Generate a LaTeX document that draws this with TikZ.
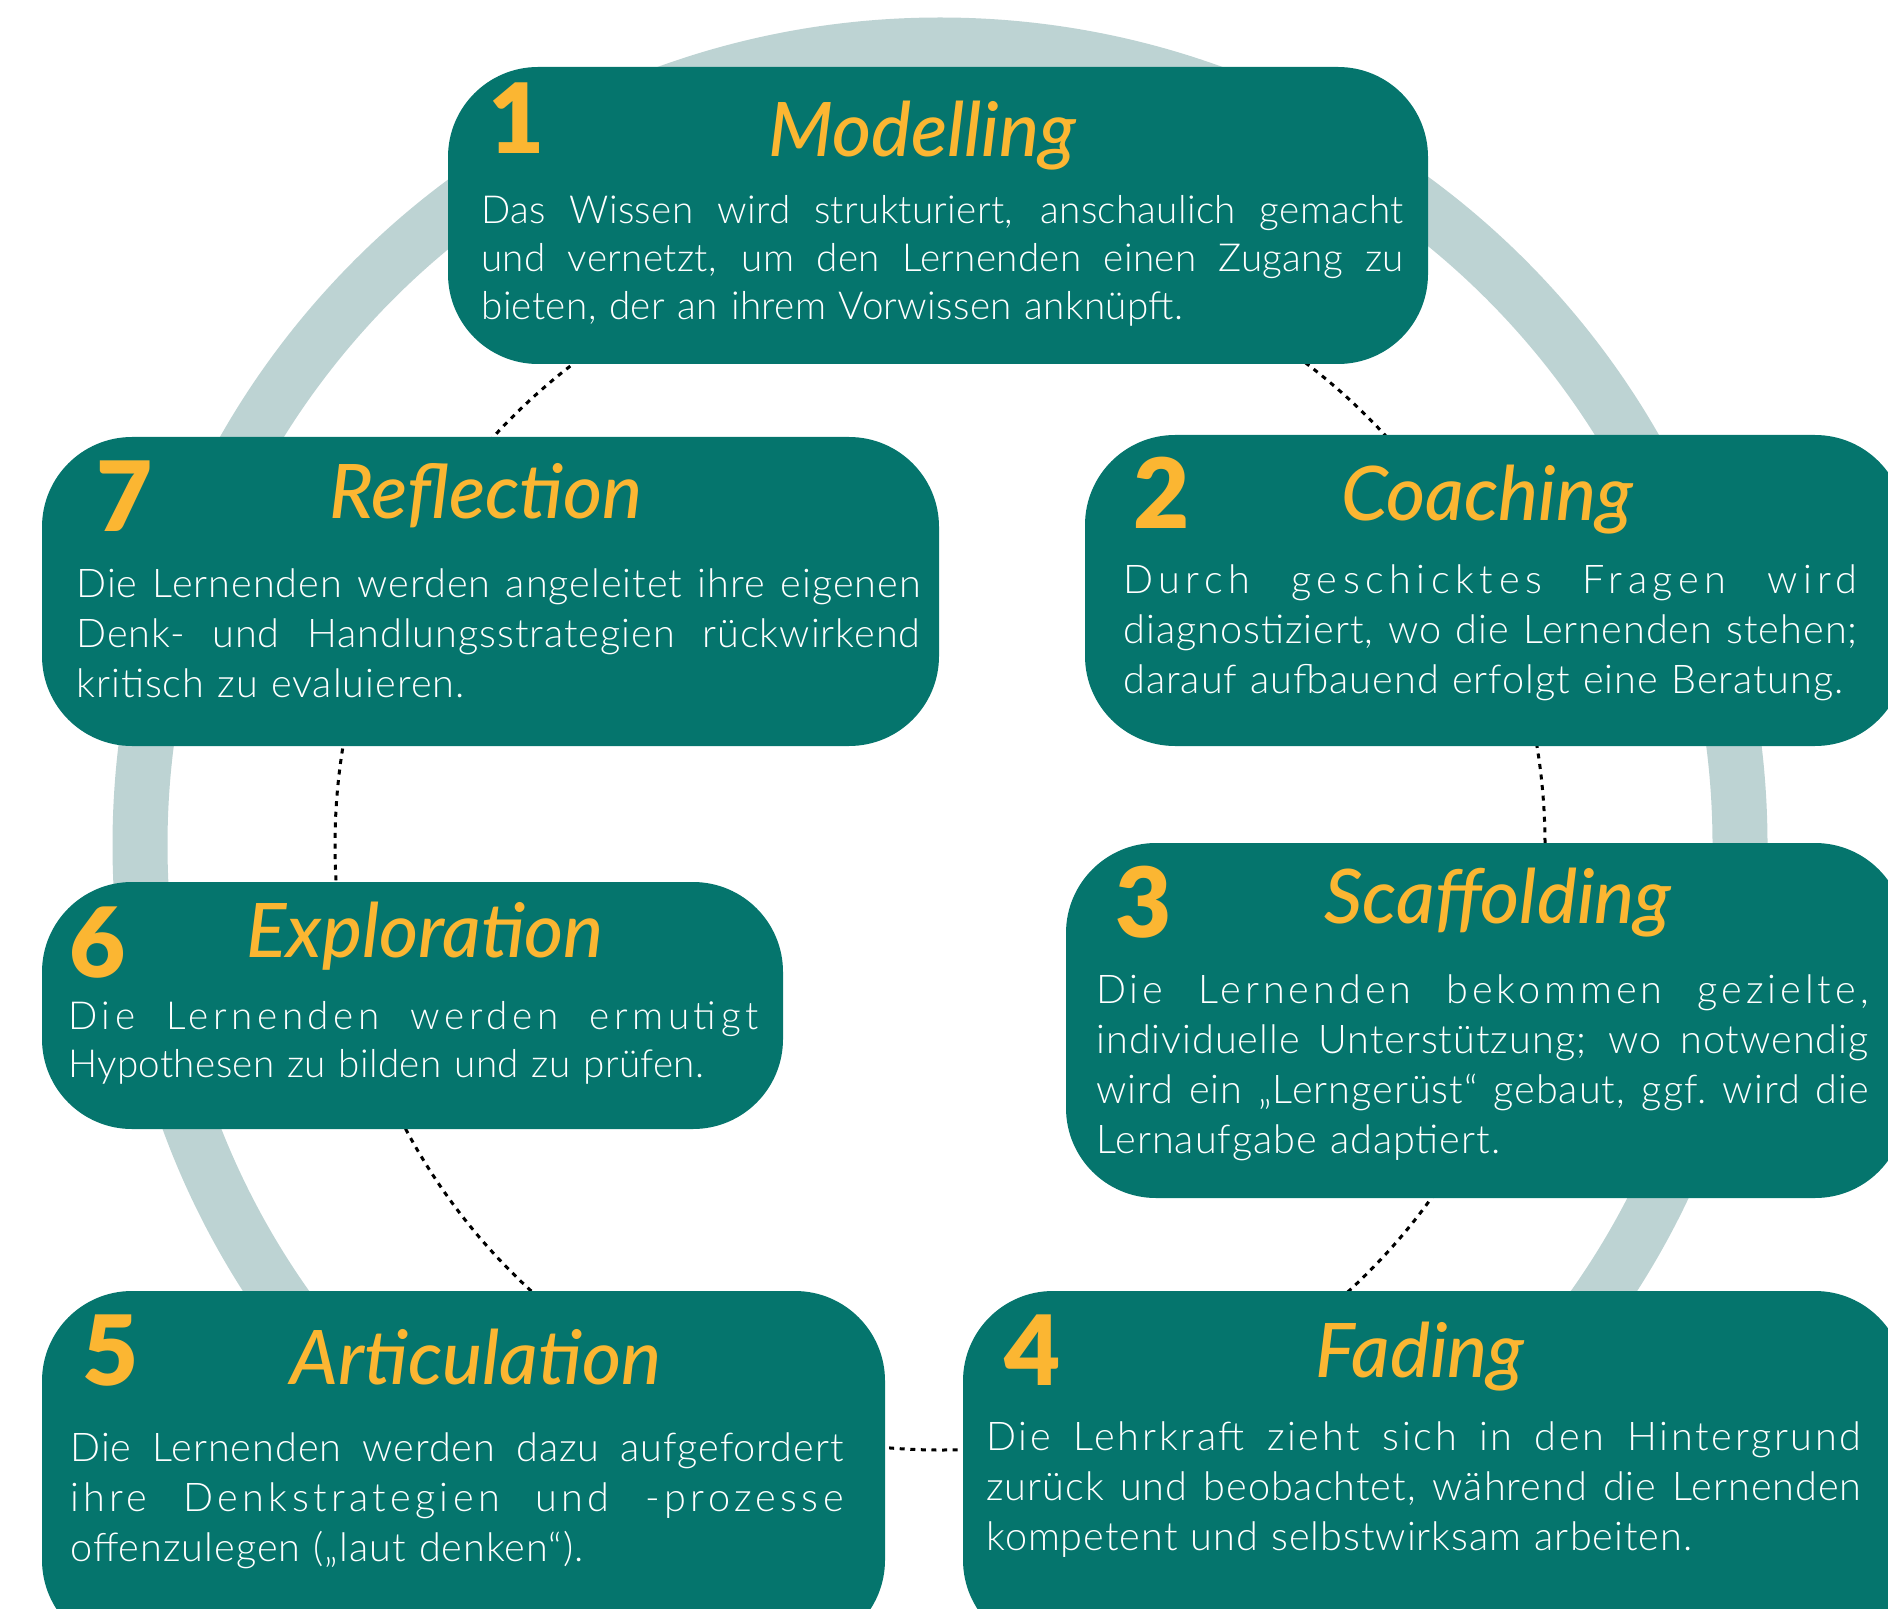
\documentclass[tikz,border=0pt]{standalone}
\usepackage{fontspec}
\setmainfont{Lato Light}
\newfontface\headfont{Lato Medium Italic}
\newfontface\numfont{Lato Black}
\usepackage{tikz}
\usetikzlibrary{positioning,fit}
\definecolor{phaseteal}{RGB}{5,117,109}
\definecolor{phaseamber}{RGB}{251,182,50}
\definecolor{ringgrey}{RGB}{189,211,211}
\tikzset{
	ring/.style={draw=ringgrey, line width=27.5pt},
	inner ring/.style={draw=black, line width=1.5pt, dash pattern=on 2.5pt off 2.8pt},
	phase/.style={fill=phaseteal, rounded corners=45pt, inner sep=0pt},
	phase num/.style={font=\numfont\fontsize{48.5}{49}\selectfont, text=phaseamber,
		inner sep=0pt, anchor=base west},
	phase title/.style={font=\headfont\fontsize{37.6}{38}\selectfont, text=phaseamber,
		inner sep=0pt, anchor=base},
	phase text/.style n args={4}{font={\fontsize{#2}{#3}\selectfont\addfontfeature{LetterSpace=#4}\def\phasew{#1}},
		text=white, inner sep=0pt, anchor=base west, text width=#1}
}
% one justified line of a box text
\newcommand{\fl}[1]{\makebox[\phasew][s]{\spaceskip=\fontdimen2\font plus 1fil\relax#1}\\}
\newcommand{\ls}[1]{\addfontfeature{LetterSpace=#1}}

\begin{document}
\begin{tikzpicture}[x=0.5pt, y=-0.5pt]
	\clip (0,0) rectangle (1888,1609);
	\coordinate (c) at (940,845);
	\draw[ring] (c) circle[radius=800];
	\draw[inner ring] (c) circle[radius=605];

	\node[phase, fit={(448,67) (1428,364)}] (b1) {};
	\node[phase, fit={(1085,435) (1905,746)}] (b2) {};
	\node[phase, fit={(1066,843) (1905,1198)}] (b3) {};
	\node[phase, fit={(963,1291) (1905,1650)}] (b4) {};
	\node[phase, fit={(42,1291) (885,1650)}] (b5) {};
	\node[phase, fit={(42,882) (783,1129)}] (b6) {};
	\node[phase, fit={(42,437) (939,746)}] (b7) {};

	\node[phase num] (n1) at (488,154) {1};
	\node[phase num] (n2) at (1133,528) {2};
	\node[phase num] (n3) at (1115,937) {3};
	\node[phase num] (n4) at (1004,1385) {4};
	\node[phase num] (n5) at (82,1385) {5};
	\node[phase num] (n6) at (69,977) {6};
	\node[phase num] (n7) at (96,531) {7};

	\node[phase title] (t1) at (922,157) {Modelling};
	\node[phase title] (t2) at (1487,520) {Coaching};
	\node[phase title] (t3) at (1498,923) {Scaffolding};
	\node[phase title] (t4) at (1420,1377) {Fading};
	\node[phase title] (t5) at (476,1384) {Articulation};
	\node[phase title] (t6) at (425,957) {Exploration};
	\node[phase title] (t7) at (486,518) {Reflection};

	\node[phase text={461pt}{19.3}{24pt}{0.9}] (d1) at (481,224) {%
		\fl{Das Wissen wird strukturiert, anschaulich gemacht}
		\fl{und vernetzt, um den Lernenden einen Zugang zu}
		bieten, der an ihrem Vorwissen anknüpft.};
	\node[phase text={367pt}{19.8}{25pt}{2.5}] (d2) at (1123,593) {%
		\fl{\ls{14}Durch geschicktes Fragen wird}
		\fl{diagnostiziert, wo die Lernenden stehen;}
		darauf aufbauend erfolgt eine Beratung.};
	\node[phase text={386pt}{19.8}{25pt}{2.5}] (d3) at (1096,1003) {%
		\fl{\ls{10}Die Lernenden bekommen gezielte,}
		\fl{individuelle Unterstützung; wo notwendig}
		\fl{wird ein „Lerngerüst“ gebaut, ggf.\ wird die}
		Lernaufgabe adaptiert.};
	\node[phase text={437.5pt}{19.8}{25pt}{2.5}] (d4) at (986,1450) {%
		\fl{\ls{7}Die Lehrkraft zieht sich in den Hintergrund}
		\fl{zurück und beobachtet, während die Lernenden}
		kompetent und selbstwirksam arbeiten.};
	\node[phase text={386.5pt}{19.8}{25pt}{2.5}] (d5) at (70,1461) {%
		\fl{Die Lernenden werden dazu aufgefordert}
		\fl{\ls{11}ihre Denkstrategien und -prozesse}
		offenzulegen („laut denken“).};
	\node[phase text={345pt}{19.3}{24pt}{0.9}] (d6) at (68,1029) {%
		\fl{\ls{12}Die Lernenden werden ermutigt}
		Hypothesen zu bilden und zu prüfen.};
	\node[phase text={422pt}{19.8}{25pt}{2.5}] (d7) at (76,597) {%
		\fl{Die Lernenden werden angeleitet ihre eigenen}
		\fl{Denk- und Handlungsstrategien rückwirkend}
		kritisch zu evaluieren.};
\end{tikzpicture}
\end{document}
